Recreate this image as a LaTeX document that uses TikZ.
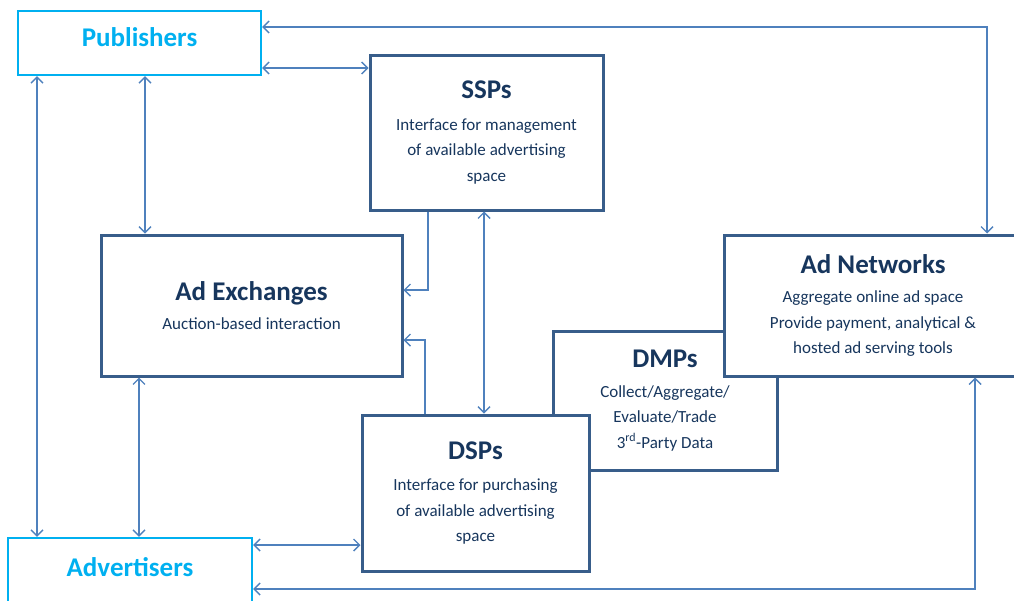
\documentclass[tikz,border=0pt]{standalone}
\usepackage{fontspec}
\setmainfont{Carlito}
\usetikzlibrary{arrows.meta}

\definecolor{boxblue}{RGB}{56,93,138}
\definecolor{txtblue}{RGB}{23,54,93}
\definecolor{pubcyan}{RGB}{0,176,240}
\definecolor{arrblue}{RGB}{79,129,189}

\newcommand{\ttl}[1]{{\fontsize{27}{30}\selectfont\bfseries #1}}

\begin{document}
\begin{tikzpicture}[x=1pt,y=-1pt]
	\tikzstyle{box} = [draw=boxblue, line width=3pt, fill=white, rectangle, text=txtblue, align=center, font=\fontsize{17}{25.5}\selectfont]
	\tikzstyle{party} = [draw=pubcyan, line width=2.2pt, fill=white, rectangle, text=pubcyan, font=\fontsize{27}{30}\selectfont\bfseries]
	\tikzstyle{arr} = [draw=arrblue, line width=1.4pt, {Straight Barb[length=6pt,width=12pt]}-{Straight Barb[length=6pt,width=12pt]}]
	\tikzstyle{arr1} = [draw=arrblue, line width=1.4pt, -{Straight Barb[length=6pt,width=12pt]}]

	\useasboundingbox (0,0) rectangle (1014,600);

	\node[party, minimum width=243, minimum height=64, text depth=12pt] (pub) at (139.5,43) {Publishers};
	\node[party, minimum width=244, minimum height=64, text depth=6pt] (adv) at (130,570) {Advertisers};

	\node[box, minimum width=233, minimum height=155] (ssp) at (486.5,132.5) {\ttl{SSPs}\\[6pt] Interface for management\\ of available advertising\\ space};
	\node[box, minimum width=301, minimum height=141] (exc) at (251.5,305.5) {\ttl{Ad Exchanges}\\[4pt] Auction-based interaction};
	\node[box, minimum width=224, minimum height=139] (dmp) at (665,400.5) {\ttl{DMPs}\\[4pt] Collect/Aggregate/\\ Evaluate/Trade\\ 3\textsuperscript{rd}-Party Data};
	\node[box, minimum width=298, minimum height=141] (net) at (873,305.5) {\ttl{Ad Networks}\\[4pt] Aggregate online ad space\\ Provide payment, analytical \&\\ hosted ad serving tools};
	\node[box, minimum width=227, minimum height=156] (dsp) at (475.5,493) {\ttl{DSPs}\\[6pt] Interface for purchasing\\ of available advertising\\ space};

	\draw[arr] (pub.east |- 0,68) -- (ssp.west |- 0,68);
	\draw[arr] (pub.east |- 0,27) -| (net.north -| 987,0);
	\draw[arr] (pub.south -| 37,0) -- (adv.north -| 37,0);
	\draw[arr] (pub.south -| 145,0) -- (exc.north -| 145,0);
	\draw[arr] (exc.south -| 139,0) -- (adv.north -| 139,0);
	\draw[arr] (ssp.south -| 484,0) -- (dsp.north -| 484,0);
	\draw[arr] (adv.east |- 0,545) -- (dsp.west |- 0,545);
	\draw[arr] (adv.east |- 0,589) -| (net.south -| 975,0);

	\draw[arr1] (ssp.south -| 428,0) |- (exc.east |- 0,290);
	\draw[arr1] (dsp.north -| 425,0) |- (exc.east |- 0,340);
\end{tikzpicture}
\end{document}
